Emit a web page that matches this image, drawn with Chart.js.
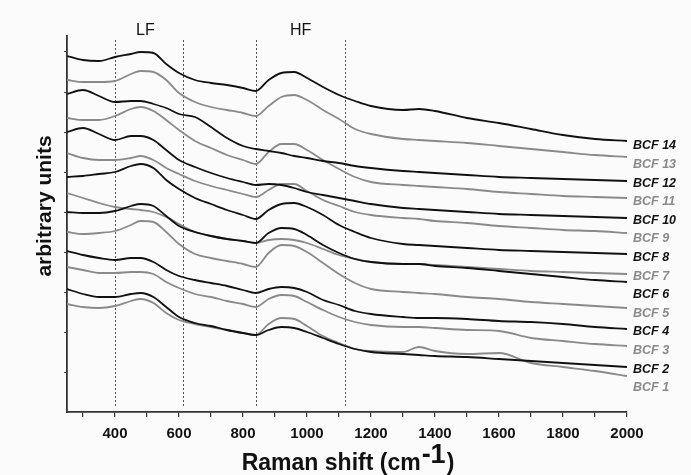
<!DOCTYPE html>
<html>
<head>
<meta charset="utf-8">
<script src="https://cdn.jsdelivr.net/npm/chart.js@4.4.1/dist/chart.umd.min.js"></script>
<style>
  html, body { margin: 0; padding: 0; background: #fbfbfb; }
  canvas { display: block; }
</style>
</head>
<body>
<canvas id="myChart" width="691" height="475"></canvas>
<script>
// Raman shift (cm-1) sample points
const WAVENUMBER = [250, 300, 350, 400, 450, 480, 520, 560, 600, 650, 700, 750, 800, 840, 880, 920, 960, 1000, 1050, 1100, 1150, 1200, 1300, 1350, 1400, 1500, 1600, 1700, 1800, 1900, 2000];

// stacked spectra (arbitrary units, offset)
const BCF14 = [356, 352, 351, 355, 358, 360, 359, 348, 339, 332, 329, 327, 324, 321, 332, 339, 340, 334, 325, 317, 311, 306, 302, 303, 301, 294, 289, 283, 277, 273, 271];
const BCF13 = [332, 330, 330, 331, 338, 341, 340, 332, 319, 310, 305, 302, 299, 296, 306, 315, 317, 312, 302, 293, 283, 278, 273, 272, 271, 269, 266, 263, 260, 257, 255];
const BCF12 = [318, 322, 316, 310, 311, 311, 308, 304, 298, 295, 285, 274, 266, 263, 261, 259, 256, 254, 251, 249, 246, 244, 241, 240, 239, 237, 235, 234, 233, 232, 231];
const BCF11 = [294, 292, 292, 296, 303, 305, 301, 292, 282, 271, 264, 257, 252, 248, 260, 268, 268, 262, 252, 243, 235, 230, 227, 226, 225, 223, 220, 218, 216, 215, 214];
const BCF10 = [280, 284, 278, 272, 276, 276, 272, 262, 252, 245, 239, 234, 230, 227, 228, 227, 224, 220, 217, 214, 211, 208, 204, 203, 202, 200, 198, 197, 196, 195, 194];
const BCF9  = [259, 254, 252, 252, 254, 256, 252, 244, 238, 231, 226, 222, 218, 215, 222, 228, 228, 221, 212, 206, 200, 197, 194, 193, 191, 189, 186, 184, 182, 181, 179];
const BCF8  = [235, 236, 238, 240, 246, 248, 244, 232, 223, 214, 208, 202, 197, 193, 202, 208, 209, 205, 197, 187, 180, 174, 168, 167, 166, 164, 162, 161, 160, 159, 158];
const BCF7  = [219, 214, 209, 205, 203, 202, 200, 195, 188, 180, 176, 173, 171, 169, 172, 173, 172, 169, 163, 157, 153, 150, 148, 148, 147, 145, 143, 141, 140, 139, 138];
const BCF6  = [200, 199, 199, 201, 206, 208, 206, 196, 186, 180, 176, 173, 171, 169, 179, 184, 183, 177, 167, 159, 153, 150, 148, 148, 146, 144, 141, 138, 135, 132, 130];
const BCF5  = [180, 178, 179, 181, 187, 191, 190, 180, 168, 158, 154, 151, 148, 145, 159, 167, 166, 160, 149, 138, 129, 123, 120, 119, 118, 115, 113, 110, 108, 106, 104];
const BCF4  = [161, 157, 154, 152, 154, 154, 150, 142, 136, 132, 129, 126, 122, 119, 123, 125, 124, 120, 112, 107, 101, 98, 95, 94, 94, 93, 91, 90, 88, 85, 83];
const BCF3  = [145, 142, 139, 139, 140, 140, 138, 130, 124, 118, 115, 111, 108, 105, 113, 117, 116, 110, 102, 95, 90, 87, 85, 85, 84, 82, 81, 74, 71, 68, 66];
const BCF2  = [123, 118, 115, 115, 118, 119, 115, 105, 95, 89, 86, 82, 79, 77, 82, 85, 84, 80, 74, 68, 63, 60, 58, 57, 56, 55, 53, 51, 49, 47, 45];
const BCF1  = [108, 105, 104, 106, 111, 113, 109, 99, 92, 88, 85, 82, 79, 77, 88, 94, 93, 86, 76, 69, 63, 61, 60, 65, 61, 58, 59, 49, 45, 41, 36];

const SERIES_NAMES = ['BCF 14', 'BCF 13', 'BCF 12', 'BCF 11', 'BCF 10', 'BCF 9', 'BCF 8', 'BCF 7', 'BCF 6', 'BCF 5', 'BCF 4', 'BCF 3', 'BCF 2', 'BCF 1'];
const SERIES_VALUES = [BCF14, BCF13, BCF12, BCF11, BCF10, BCF9, BCF8, BCF7, BCF6, BCF5, BCF4, BCF3, BCF2, BCF1];

const X_TICKS = [300, 400, 500, 600, 700, 800, 900, 1000, 1100, 1200, 1300, 1400, 1500, 1600, 1700, 1800, 1900, 2000];
const Y_TICKS = [40, 80, 120, 160, 200, 240, 280, 320, 360];

// band limits (dotted lines) and band names
const BAND_EDGES = [400, 612, 840, 1118];
const BAND_NAMES = ['LF', 'HF'];
const BAND_CENTERS = [495, 980];

const BLACK = '#111111';
const GREY = '#8a8a8a';
const FONT = '"Liberation Sans", Arial, sans-serif';

function lineColor(name) {
  // even numbered samples are black, odd are grey
  return parseInt(name.split(' ')[1]) % 2 === 0 ? BLACK : GREY;
}

const decorations = {
  id: 'decorations',
  beforeDraw(chart) {
    const ctx = chart.ctx;
    ctx.save();
    ctx.fillStyle = '#fbfbfb';
    ctx.fillRect(0, 0, chart.width, chart.height);
    ctx.restore();
  },
  beforeDatasetsDraw(chart) {
    const ctx = chart.ctx;
    const area = chart.chartArea;
    const xs = chart.scales.x;
    ctx.save();
    ctx.strokeStyle = '#555';
    ctx.lineWidth = 1;
    ctx.setLineDash([2, 2]);
    BAND_EDGES.forEach(v => {
      const px = Math.round(xs.getPixelForValue(v)) + 0.5;
      ctx.beginPath();
      ctx.moveTo(px, area.top + 4);
      ctx.lineTo(px, area.bottom - 5);
      ctx.stroke();
    });
    ctx.restore();
  },
  afterDraw(chart) {
    const ctx = chart.ctx;
    const area = chart.chartArea;
    const xs = chart.scales.x;
    ctx.save();

    // LF / HF
    ctx.fillStyle = BLACK;
    ctx.font = '16px ' + FONT;
    ctx.textAlign = 'center';
    ctx.textBaseline = 'middle';
    BAND_NAMES.forEach((t, i) => {
      ctx.fillText(t, xs.getPixelForValue(BAND_CENTERS[i]), 31);
    });

    // sample names at the right
    ctx.font = 'italic bold 12.5px ' + FONT;
    ctx.textAlign = 'left';
    SERIES_NAMES.forEach((name, i) => {
      ctx.fillStyle = lineColor(name);
      ctx.fillText(name, area.right + 6, area.top + 110 + i * 18.6);
    });

    // y title
    ctx.save();
    ctx.translate(45, 206);
    ctx.rotate(-Math.PI / 2);
    ctx.fillStyle = BLACK;
    ctx.font = 'bold 21px ' + FONT;
    ctx.textAlign = 'center';
    ctx.textBaseline = 'middle';
    ctx.fillText('arbitrary units', 0, 0);
    ctx.restore();

    // x title with superscript
    const main = 'Raman shift (cm';
    const sup = '-1';
    const end = ')';
    ctx.fillStyle = BLACK;
    ctx.textAlign = 'left';
    ctx.textBaseline = 'alphabetic';
    ctx.font = 'bold 23px ' + FONT;
    const w1 = ctx.measureText(main).width;
    const w3 = ctx.measureText(end).width;
    ctx.font = 'bold 27px ' + FONT;
    const w2 = ctx.measureText(sup).width;
    let x0 = (area.left + area.right) / 2 - (w1 + w2 + w3) / 2;
    ctx.font = 'bold 23px ' + FONT;
    ctx.fillText(main, x0, 470);
    ctx.font = 'bold 27px ' + FONT;
    ctx.fillText(sup, x0 + w1 + 1, 463);
    ctx.font = 'bold 23px ' + FONT;
    ctx.fillText(end, x0 + w1 + w2 + 2, 470);

    ctx.restore();
  }
};

const datasets = SERIES_NAMES.map((name, i) => ({
  label: name,
  data: SERIES_VALUES[i].map((v, j) => ({ x: WAVENUMBER[j], y: v })),
  borderColor: lineColor(name),
  borderWidth: 1.8,
  pointRadius: 0,
  cubicInterpolationMode: 'monotone',
  fill: false,
  order: lineColor(name) === BLACK ? 0 : 1
}));

const ctx = document.getElementById('myChart');
new Chart(ctx, {
  type: 'line',
  data: { datasets: datasets },
  options: {
    responsive: false,
    animation: false,
    layout: { padding: { left: 0, right: 64, top: 36, bottom: 0 } },
    plugins: {
      legend: { display: false },
      tooltip: { enabled: false }
    },
    scales: {
      x: {
        type: 'linear',
        min: 250,
        max: 2000,
        afterBuildTicks: s => { s.ticks = X_TICKS.map(v => ({ value: v })); },
        afterFit: s => { s.height = 63; },
        ticks: {
          color: BLACK,
          font: { family: FONT, size: 15, weight: 'bold' },
          padding: 8,
          maxRotation: 0,
          autoSkip: false,
          callback: v => (v % 200 === 0 ? v : '')
        },
        grid: { drawOnChartArea: false, tickLength: 5, color: '#333', lineWidth: 1.2 },
        border: { display: true, color: '#333', width: 1.8 }
      },
      y: {
        min: 0,
        max: 376,
        afterBuildTicks: s => { s.ticks = Y_TICKS.map(v => ({ value: v })); },
        afterFit: s => { s.width = 67; },
        ticks: { display: false },
        grid: { drawOnChartArea: false, tickLength: 3, color: '#444', lineWidth: 1 },
        border: { display: true, color: '#333', width: 1.8 }
      }
    }
  },
  plugins: [decorations]
});
</script>
</body>
</html>
